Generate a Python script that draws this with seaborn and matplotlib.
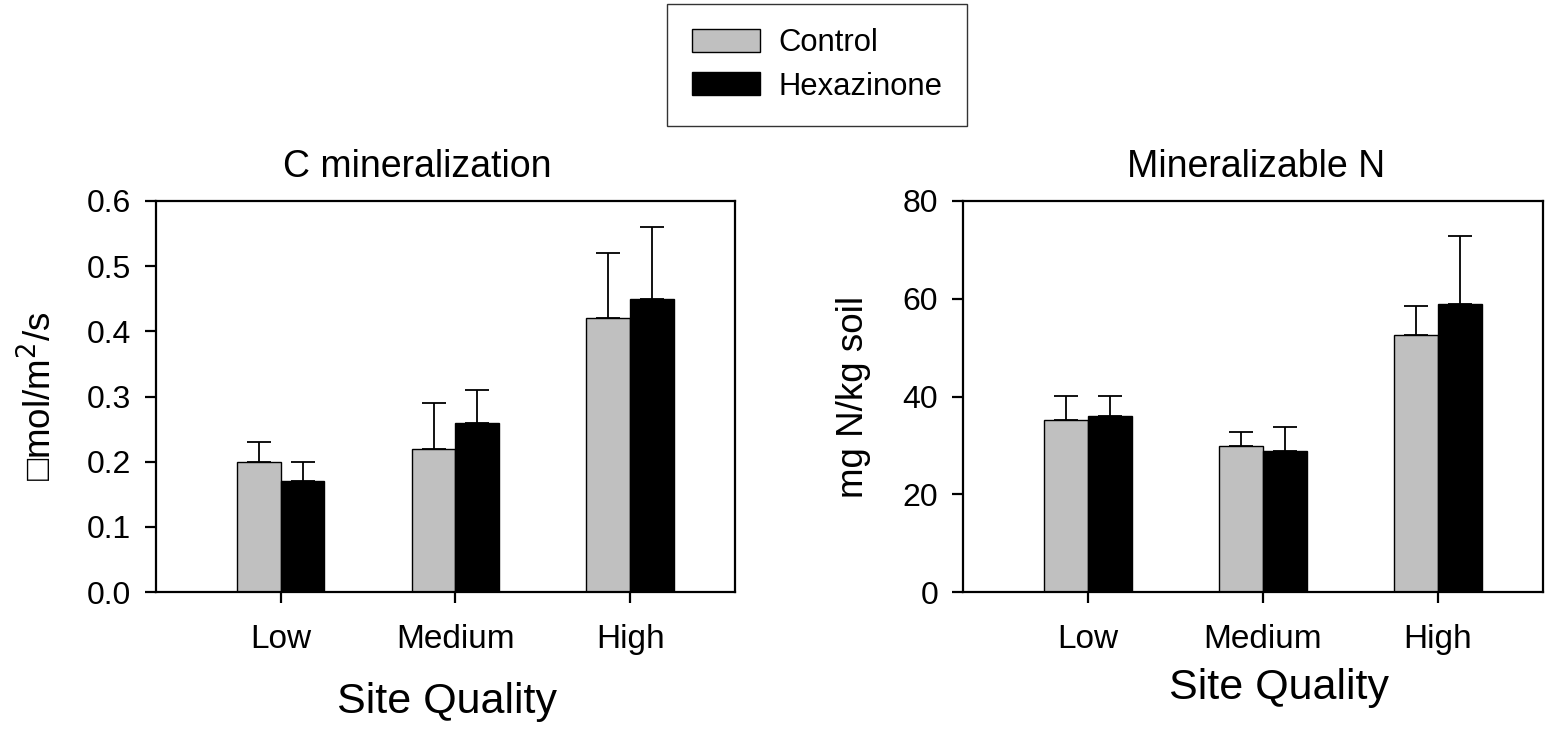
import numpy as np
import pandas as pd
import seaborn as sns
import matplotlib
matplotlib.use("Agg")
import matplotlib.pyplot as plt
from matplotlib.patches import Patch

# ---- data ----
categories = ["Low", "Medium", "High"]
treatments = ["Control", "Hexazinone"]

c_control = [0.20, 0.22, 0.42]
c_control_err = [0.03, 0.07, 0.10]
c_hex = [0.17, 0.26, 0.45]
c_hex_err = [0.03, 0.05, 0.11]

n_control = [35.2, 29.9, 52.6]
n_control_err = [4.9, 2.8, 5.9]
n_hex = [36.1, 28.8, 59.0]
n_hex_err = [4.0, 4.9, 13.8]

colors = {"Control": "#c0c0c0", "Hexazinone": "#000000"}

sns.set_theme(style="white")
plt.rcParams["font.family"] = ["Liberation Sans", "DejaVu Sans"]
plt.rcParams["text.color"] = "black"
plt.rcParams["axes.labelcolor"] = "black"
plt.rcParams["xtick.color"] = "black"
plt.rcParams["ytick.color"] = "black"

fig = plt.figure(figsize=(15.55, 7.35), dpi=100)
W, H = 1555, 735
ax1 = fig.add_axes([156 / W, 1 - 592 / H, 579 / W, 391 / H])
ax2 = fig.add_axes([963 / W, 1 - 592 / H, 580 / W, 391 / H])


def panel(ax, ctrl, ctrl_err, hexa, hexa_err, ylim, yticks, yfmt, ylabel,
          ylab_x, title, title_x, xlab_x, xlab_y):
    df = pd.DataFrame({
        "Site": categories * 2,
        "Treatment": [treatments[0]] * 3 + [treatments[1]] * 3,
        "Value": list(ctrl) + list(hexa),
    })
    sns.barplot(data=df, x="Site", y="Value", hue="Treatment", order=categories,
                hue_order=treatments, palette=colors, width=0.5, gap=0,
                errorbar=None, edgecolor="black", linewidth=1.0, ax=ax,
                saturation=1, legend=False)
    errs = [ctrl_err, hexa_err]
    for cont, e in zip(ax.containers, errs):
        xs = [p.get_x() + p.get_width() / 2 for p in cont.patches]
        hs = [p.get_height() for p in cont.patches]
        ax.errorbar(xs, hs, yerr=[np.zeros(len(e)), e], fmt="none", ecolor="black",
                    elinewidth=1.3, capsize=8.5, capthick=1.3, zorder=1)
    ax.set_xlim(-0.714, 2.6)
    ax.set_ylim(*ylim)
    ax.set_yticks(yticks)
    ax.set_yticklabels([yfmt.format(v) for v in yticks])
    for s in ax.spines.values():
        s.set_visible(True)
        s.set_color("black")
        s.set_linewidth(1.6)
    ax.tick_params(axis="y", direction="out", length=8, width=1.6, pad=10,
                   labelsize=23, left=True, color="black", labelcolor="black")
    ax.tick_params(axis="x", direction="out", length=8, width=1.6, pad=15,
                   labelsize=24, bottom=True, color="black", labelcolor="black")
    ax.set_ylabel(ylabel, fontsize=26.5)
    ax.yaxis.set_label_coords(ylab_x, 0.5)
    ax.set_xlabel("Site Quality", fontsize=31)
    ax.xaxis.set_label_coords(xlab_x, xlab_y)
    ax.set_title(title, fontsize=27, x=title_x, pad=17, color="black")
    ax.grid(False)


panel(ax1, c_control, c_control_err, c_hex, c_hex_err, (0, 0.6),
      [0.0, 0.1, 0.2, 0.3, 0.4, 0.5, 0.6], "{:.1f}", "\u25a1mol/m$^2$/s",
      -0.166, "C mineralization", 0.452, 0.503, -0.23)
panel(ax2, n_control, n_control_err, n_hex, n_hex_err, (0, 80),
      [0, 20, 40, 60, 80], "{:d}", "mg N/kg soil",
      -0.159, "Mineralizable N", 0.505, 0.545, -0.194)

handles = [Patch(facecolor=colors[t], edgecolor="black", linewidth=1.0) for t in treatments]
leg = fig.legend(handles, treatments, loc="center", bbox_to_anchor=(817 / W, 1 - 65 / H),
                 fontsize=22.3, frameon=True, fancybox=False, handlelength=2.2,
                 handleheight=0.75, borderpad=0.8, labelspacing=0.42, handletextpad=0.6,
                 borderaxespad=0)
leg.get_frame().set_edgecolor("black")
leg.get_frame().set_linewidth(1.0)
for t in leg.get_texts():
    t.set_color("black")

fig.savefig("out.png", dpi=100)
